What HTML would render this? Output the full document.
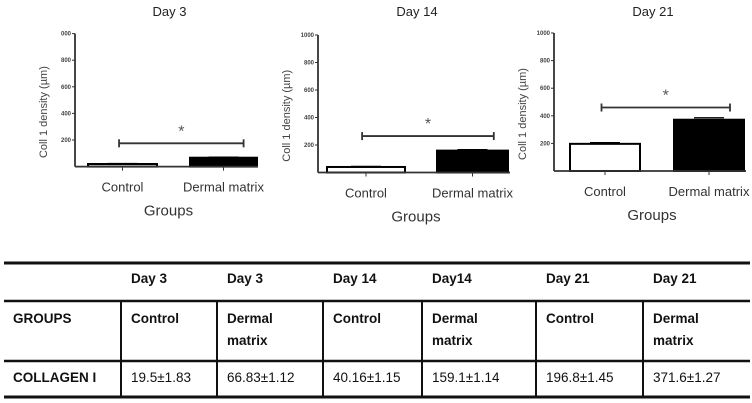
<!DOCTYPE html>
<html><head><meta charset="utf-8">
<style>
body{margin:0;width:752px;height:403px;background:#fff;overflow:hidden;font-family:"Liberation Sans",sans-serif}
svg{position:absolute;left:0;top:0}
</style></head>
<body>
<svg id="chart" width="752" height="403"></svg>
<script>
const days = ["Day 3", "Day 14", "Day 21"];
const groups = ["Control", "Dermal matrix"];
const controlValues = [19.5, 40.16, 196.8];
const dermalValues = [66.83, 159.1, 371.6];
const sigLevels = [175, 265, 460];
const yTicks = [200, 400, 600, 800, 1000];
const yTickLabels = ["200", "400", "600", "800", "000"];
const yTickLabels2 = ["200", "400", "600", "800", "1000"];
const tableHeader = ["", "Day 3", "Day 3", "Day 14", "Day14", "Day 21", "Day 21"];
const tableGroups = ["GROUPS", "Control", "Dermal\nmatrix", "Control", "Dermal\nmatrix", "Control", "Dermal\nmatrix"];
const tableValues = ["COLLAGEN I", "19.5±1.83", "66.83±1.12", "40.16±1.15", "159.1±1.14", "196.8±1.45", "371.6±1.27"];

const svg = document.getElementById('chart');
const NS = "http://www.w3.org/2000/svg";
function mk(tag, attrs, parent) {
  const e = document.createElementNS(NS, tag);
  for (const k in attrs) e.setAttribute(k, attrs[k]);
  (parent || svg).appendChild(e);
  return e;
}
const panels = [
  {ax:75, base:166.6, top:33.6, bx:[88,157,190,257], xend:258},
  {ax:318, base:172.5, top:35, bx:[327,405,437,508], xend:510},
  {ax:554, base:171, top:33, bx:[570,640,674,744], xend:746}
];
panels.forEach((p, i) => {
  const g = mk('g', {});
  
  
  const y = v => p.base - (v / 1000) * (p.base - p.top);
  const t = mk('text', {x:(p.ax + p.xend) / 2 + 3, y:16, 'font-size':13, 'text-anchor':'middle', fill:'#222'}, g);
  t.textContent = days[i];
  
  
  const vals = [controlValues[i], dermalValues[i]];
  vals.forEach((v, j) => {
    const x0 = p.bx[j * 2], x1 = p.bx[j * 2 + 1];
    const r = mk('rect', {x:x0, y:y(v), width:x1 - x0, height:p.base - y(v), fill:j ? '#000' : '#fff', stroke:'#000', 'stroke-width':2}, g);
    
    
    mk('line', {x1:(x0 + x1) / 2 - 15, x2:(x0 + x1) / 2 + 15, y1:y(v * 1.03 + 3), y2:y(v * 1.03 + 3), stroke:'#000', 'stroke-width':1.2}, g);
    const tx = (x0 + x1) / 2;
    mk('line', {x1:tx, x2:tx, y1:p.base, y2:p.base + 4, stroke:'#333', 'stroke-width':1}, g);
    const lb = mk('text', {x:tx, y:p.base + 25, 'font-size':13, 'text-anchor':'middle', fill:'#333'}, g);
    lb.textContent = groups[j];
    
    
  });
  mk('line', {x1:p.ax, x2:p.ax, y1:p.top, y2:p.base, stroke:'#333', 'stroke-width':1.8}, g);
  mk('line', {x1:p.ax, x2:p.xend, y1:p.base, y2:p.base, stroke:'#333', 'stroke-width':1.8}, g);
  yTicks.forEach((v, k) => {
    mk('line', {x1:p.ax - 3, x2:p.ax, y1:y(v), y2:y(v), stroke:'#333', 'stroke-width':1}, g);
    const tl = mk('text', {x:p.ax - 4, y:y(v) + 2, 'font-size':6, 'font-weight':'bold', 'text-anchor':'end', fill:'#444'}, g);
    tl.textContent = i === 0 ? yTickLabels[k] : yTickLabels2[k];
    
    
  });
  const yt = mk('text', {transform:`translate(${p.ax - 28},${(p.top + p.base) / 2 + 12}) rotate(-90)`, 'font-size':11, 'text-anchor':'middle', fill:'#444'}, g);
  yt.textContent = 'Coll 1 density (µm)';
  
  
  const xt = mk('text', {x:(p.ax + p.xend) / 2 + 2, y:p.base + 49, 'font-size':15, 'text-anchor':'middle', fill:'#333'}, g);
  xt.textContent = 'Groups';
  
  
  const sx0 = p.bx[0] + (p.bx[1] - p.bx[0]) * 0.45, sx1 = p.bx[2] + (p.bx[3] - p.bx[2]) * 0.8;
  const sy = y(sigLevels[i]);
  const sg = mk('g', {stroke:'#333', 'stroke-width':1.8}, g);
  
  
  mk('line', {x1:sx0, x2:sx1, y1:sy, y2:sy}, sg);
  mk('line', {x1:sx0, x2:sx0, y1:sy - 4, y2:sy + 4}, sg);
  mk('line', {x1:sx1, x2:sx1, y1:sy - 4, y2:sy + 4}, sg);
  const st = mk('text', {x:(sx0 + sx1) / 2, y:sy - 7, 'font-size':16, 'text-anchor':'middle', fill:'#555'}, g);
  st.textContent = '*';
  
  
});

const tg = mk('g', {});


const colX = [4, 121, 217, 323, 422, 536, 643, 750];
[[263, 3], [301, 2.5], [361, 2.5], [397, 3]].forEach(([yy, w]) => mk('line', {x1:4, x2:750, y1:yy, y2:yy, stroke:'#111', 'stroke-width':w}, tg));
for (let c = 1; c < 7; c++) mk('line', {x1:colX[c], x2:colX[c], y1:301, y2:397, stroke:'#111', 'stroke-width':2}, tg);
function cellText(txt, c, y0, bold, name) {
  const lines = txt.split('\n');
  lines.forEach((ln, k) => {
    const t = mk('text', {x:c === 0 ? 13 : colX[c] + 10, y:y0 + k * 22, 'font-size':13.5, 'font-weight':bold ? 'bold' : 'normal', fill:'#111'}, tg);
    t.textContent = ln;
    
    
  });
}
tableHeader.forEach((s, c) => { if (s) cellText(s, c, 283, true, 'table-header-cell'); });
tableGroups.forEach((s, c) => cellText(s, c, 323, true, 'table-group-cell'));
tableValues.forEach((s, c) => cellText(s, c, 382, c === 0, 'table-value-cell'));
</script>
</body></html>
